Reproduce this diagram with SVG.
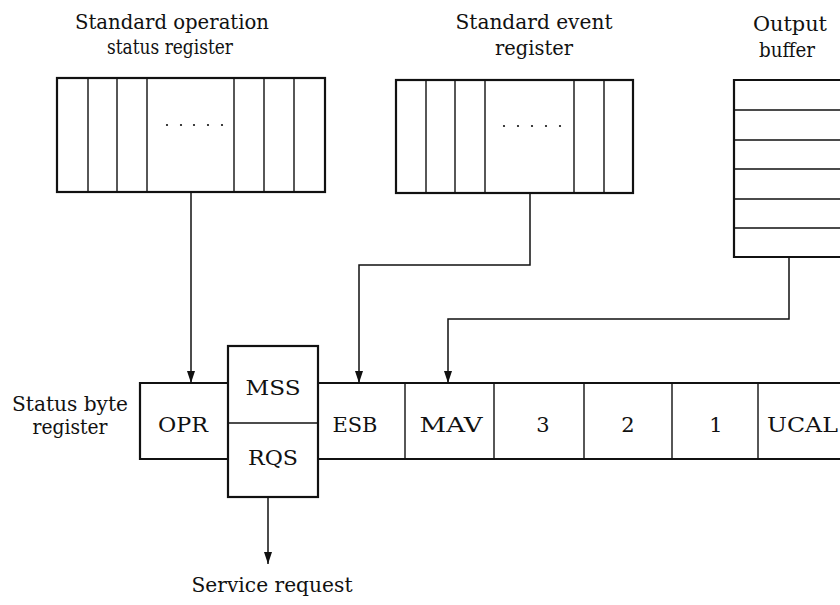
<svg xmlns="http://www.w3.org/2000/svg" width="840" height="605" viewBox="0 0 840 605">
<style>
text{font-family:"DejaVu Serif","Liberation Serif",serif;font-size:21px;fill:#111;}
.box{fill:#fff;stroke:#111;stroke-width:2.2;}
.div{stroke:#111;stroke-width:1.4;fill:none;}
.edge{stroke:#111;stroke-width:1.5;fill:none;}
.dot{fill:#111;}
</style>
<defs>
<marker id="arr" markerWidth="12" markerHeight="8" refX="12" refY="4" orient="auto" markerUnits="userSpaceOnUse" viewBox="0 0 12 8">
<path d="M0,0 L12,4 L0,8 Z" fill="#111"/>
</marker>
</defs>
<rect width="840" height="605" fill="#fff"/>

<g id="labels">
<text x="172" y="29" text-anchor="middle" textLength="194" lengthAdjust="spacingAndGlyphs">Standard operation</text>
<text x="170" y="54" text-anchor="middle" textLength="126" lengthAdjust="spacingAndGlyphs">status register</text>
<text x="534" y="29" text-anchor="middle" textLength="157" lengthAdjust="spacingAndGlyphs">Standard event</text>
<text x="534" y="55" text-anchor="middle" textLength="78" lengthAdjust="spacingAndGlyphs">register</text>
<text x="790" y="31" text-anchor="middle" textLength="74" lengthAdjust="spacingAndGlyphs">Output</text>
<text x="787" y="57" text-anchor="middle" textLength="56" lengthAdjust="spacingAndGlyphs">buffer</text>
<text x="70" y="411" text-anchor="middle" textLength="116" lengthAdjust="spacingAndGlyphs">Status byte</text>
<text x="70" y="434" text-anchor="middle" textLength="75" lengthAdjust="spacingAndGlyphs">register</text>
<text x="272" y="592" text-anchor="middle" textLength="161" lengthAdjust="spacingAndGlyphs">Service request</text>
</g>

<g id="op-register">
<rect class="box" x="57" y="78" width="268" height="114"/>
<path class="div" d="M88,78V192M117,78V192M147,78V192M234,78V192M264,78V192M294,78V192"/>
<circle class="dot" cx="167" cy="125" r="1.1"/><circle class="dot" cx="181" cy="125" r="1.1"/><circle class="dot" cx="194" cy="125" r="1.1"/><circle class="dot" cx="208" cy="125" r="1.1"/><circle class="dot" cx="222" cy="125" r="1.1"/>
</g>

<g id="event-register">
<rect class="box" x="396" y="80" width="237" height="113"/>
<path class="div" d="M426,80V193M455,80V193M485,80V193M574,80V193M604,80V193"/>
<circle class="dot" cx="504" cy="126" r="1.1"/><circle class="dot" cx="518" cy="126" r="1.1"/><circle class="dot" cx="532" cy="126" r="1.1"/><circle class="dot" cx="546" cy="126" r="1.1"/><circle class="dot" cx="560" cy="126" r="1.1"/>
</g>

<g id="output-buffer">
<path class="box" d="M842,80H734V257H842"/>
<path class="div" d="M734,110H842M734,140H842M734,169H842M734,199H842M734,228H842"/>
</g>

<g id="status-byte">
<path class="box" d="M228,383H140V459H228M318,383H842M318,459H842" fill="none"/>
<path class="div" d="M405,383V459M494,383V459M584,383V459M672,383V459M758,383V459"/>
<text x="183" y="432" text-anchor="middle" textLength="50" lengthAdjust="spacingAndGlyphs">OPR</text>
<text x="355" y="432" text-anchor="middle" textLength="45" lengthAdjust="spacingAndGlyphs">ESB</text>
<text x="451" y="432" text-anchor="middle" textLength="63" lengthAdjust="spacingAndGlyphs">MAV</text>
<text x="543" y="432" text-anchor="middle">3</text>
<text x="628" y="432" text-anchor="middle">2</text>
<text x="716" y="432" text-anchor="middle">1</text>
<text x="767" y="432" textLength="71" lengthAdjust="spacingAndGlyphs">UCAL</text>
</g>

<g id="mss-rqs">
<rect class="box" x="228" y="346" width="90" height="151"/>
<line class="div" x1="228" y1="423" x2="318" y2="423"/>
<text x="273" y="395" text-anchor="middle" textLength="55" lengthAdjust="spacingAndGlyphs">MSS</text>
<text x="273" y="465" text-anchor="middle" textLength="50" lengthAdjust="spacingAndGlyphs">RQS</text>
</g>

<g id="connectors">
<path class="edge" d="M191,193V383" marker-end="url(#arr)"/>
<path class="edge" d="M530,194V265H359V383" marker-end="url(#arr)"/>
<path class="edge" d="M789,258V319H448V383" marker-end="url(#arr)"/>
<path class="edge" d="M268,498V564" marker-end="url(#arr)"/>
</g>
</svg>
